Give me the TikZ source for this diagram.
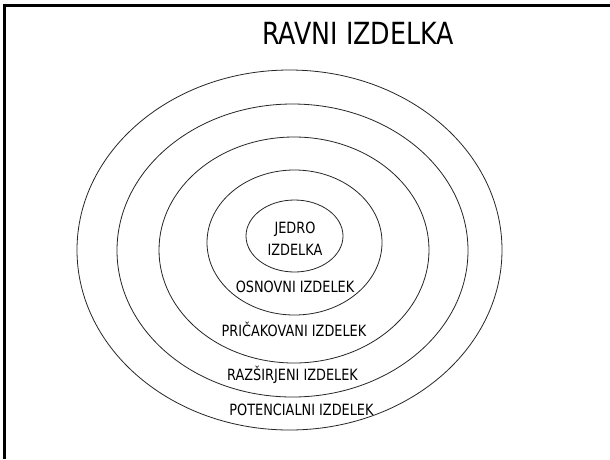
\documentclass[tikz,border=0pt]{standalone}
\usepackage{fontspec}
\setmainfont{DejaVu Sans}[FakeStretch=0.83]
\usetikzlibrary{shapes.geometric}
\tikzset{
  ring/.style={draw=black!85, line width=0.8pt, ellipse, inner sep=0pt, fill=none},
  lbl/.style={anchor=base, inner sep=0pt, font=\fontsize{15.5}{23}\selectfont, text=black},
  ttl/.style={anchor=base, inner sep=0pt, font=\fontsize{30.5}{34}\selectfont, text=black}
}
\begin{document}
\begin{tikzpicture}[x=1pt, y=-1pt]
  \useasboundingbox (0,0) rectangle (610,459);
  \fill[white] (0,0) rectangle (610,459);
  % frame: top and left edges only
  \coordinate (fTL) at (4.3,5.3);
  \coordinate (fTR) at (610,5.3);
  \coordinate (fBL) at (4.3,459);
  \draw[line width=2.5pt] (fTR) -- (fTL) -- (fBL);
  % title
  \node[ttl] (title) at (358,44.5) {RAVNI IZDELKA};
  % concentric product levels
  \node[ring, minimum width=425pt, minimum height=360pt] (pot) at (289.5,250) {};
  \node[ring, minimum width=351pt, minimum height=293pt] (raz) at (292.5,250.5) {};
  \node[ring, minimum width=270pt, minimum height=226pt] (pri) at (294,250) {};
  \node[ring, minimum width=175pt, minimum height=145pt] (osn) at (294.5,242.5) {};
  \node[ring, minimum width=97pt, minimum height=72pt] (jed) at (294.5,236) {};
  % level names
  \node[lbl] (tJed1) at (295,233) {JEDRO};
  \node[lbl] (tJed2) at (295,255.5) {IZDELKA};
  \node[lbl] (tOsn) at (295,292) {OSNOVNI IZDELEK};
  \node[lbl] (tPri) at (294,336) {PRIČAKOVANI IZDELEK};
  \node[lbl] (tRaz) at (292.5,380) {RAZŠIRJENI IZDELEK};
  \node[lbl] (tPot) at (301.5,415) {POTENCIALNI IZDELEK};
\end{tikzpicture}
\end{document}
